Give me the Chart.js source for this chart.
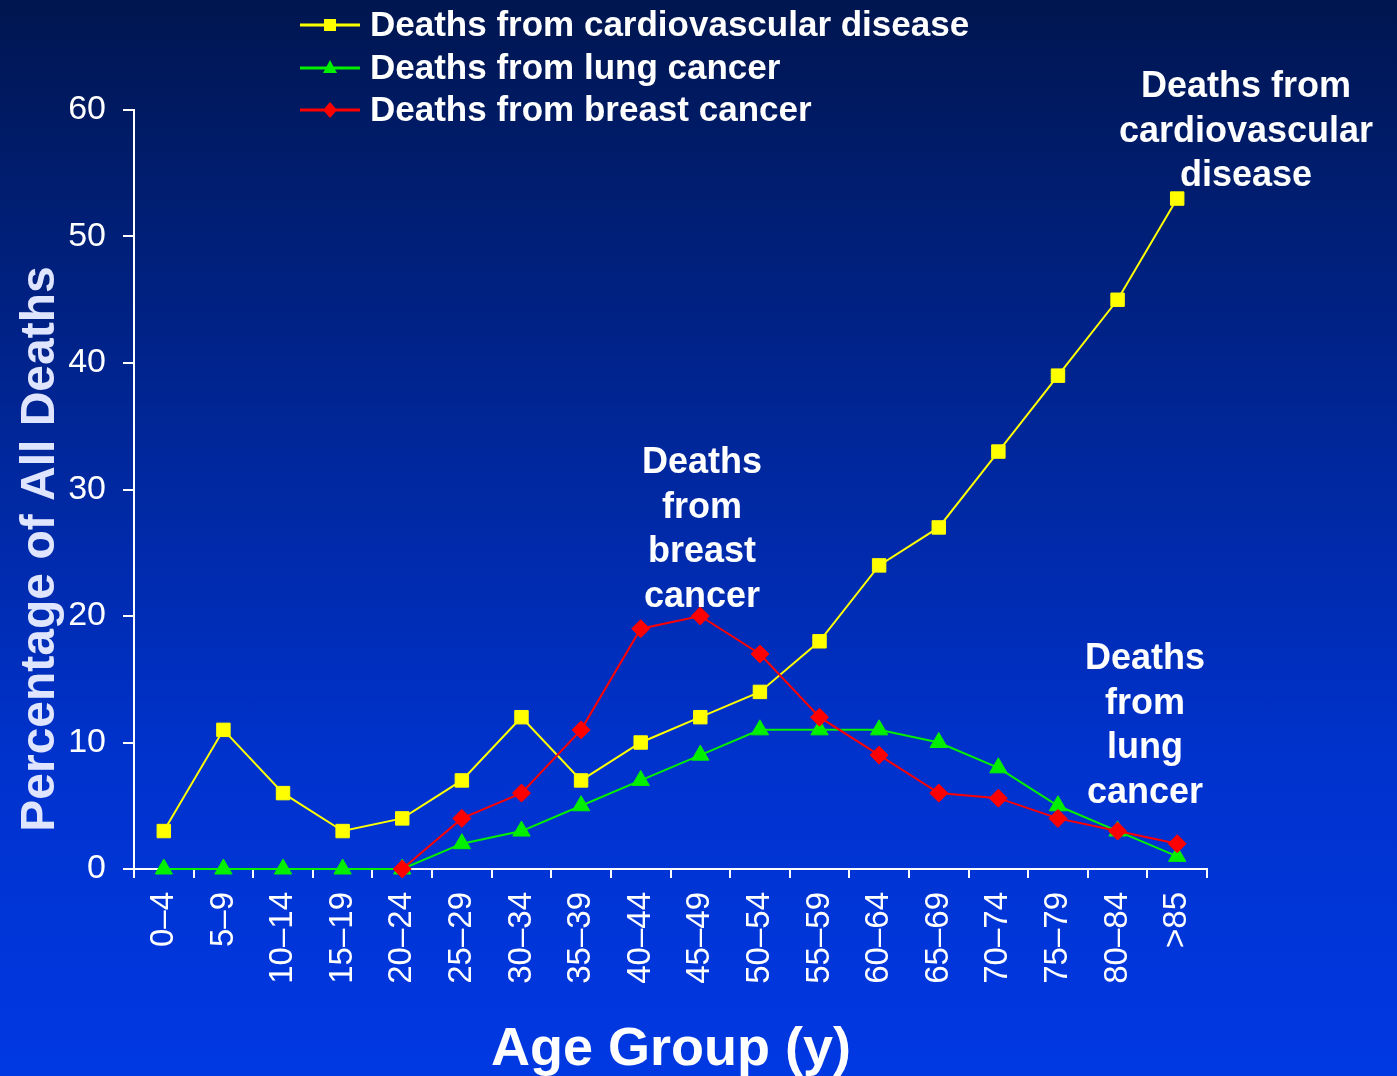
<!DOCTYPE html>
<html>
<head>
<meta charset="utf-8">
<title>Percentage of All Deaths by Age Group</title>
<script src="https://cdn.jsdelivr.net/npm/chart.js@4.4.1/dist/chart.umd.min.js"></script>
<style>
  html, body { margin: 0; padding: 0; }
  body {
    width: 1397px;
    height: 1076px;
    overflow: hidden;
    background: linear-gradient(to bottom, #001650 0%, #00248f 35%, #0032cc 70%, #0038e2 100%);
  }
  canvas { display: block; }
</style>
</head>
<body>
<canvas id="chart" width="1397" height="1076"></canvas>
<script>
const ageGroups = ["0–4", "5–9", "10–14", "15–19", "20–24", "25–29", "30–34", "35–39", "40–44",
  "45–49", "50–54", "55–59", "60–64", "65–69", "70–74", "75–79", "80–84", ">85"];
const cardioDeaths = [3, 11, 6, 3, 4, 7, 12, 7, 10, 12, 14, 18, 24, 27, 33, 39, 45, 53];
const lungDeaths = [0, 0, 0, 0, 0, 2, 3, 5, 7, 9, 11, 11, 11, 10, 8, 5, 3, 1];
const breastDeaths = [null, null, null, null, 0, 4, 6, 11, 19, 20, 17, 12, 9, 6, 5.6, 4, 3, 2];
const yTicks = [0, 10, 20, 30, 40, 50, 60];

const seriesNames = ["Deaths from cardiovascular disease", "Deaths from lung cancer", "Deaths from breast cancer"];
const seriesColors = ["#ffff00", "#00f000", "#ff0000"];
const seriesShapes = ["rect", "triangle", "rectRot"];

// in-chart callouts (text only)
const callouts = [
  { lines: ["Deaths from", "cardiovascular", "disease"], x: 1246, y: 87 },
  { lines: ["Deaths", "from", "breast", "cancer"], x: 702, y: 463 },
  { lines: ["Deaths", "from", "lung", "cancer"], x: 1145, y: 659 },
];

const FONT = "'Liberation Sans', Arial, Helvetica, sans-serif";

function drawMarker(c, shape, x, y, color) {
  c.fillStyle = color;
  c.beginPath();
  if (shape === "rect") {
    c.rect(x - 6, y - 6, 12, 12);
  } else if (shape === "triangle") {
    c.moveTo(x, y - 8);
    c.lineTo(x + 7, y + 5);
    c.lineTo(x - 7, y + 5);
    c.closePath();
  } else {
    c.moveTo(x, y - 8);
    c.lineTo(x + 7, y);
    c.lineTo(x, y + 8);
    c.lineTo(x - 7, y);
    c.closePath();
  }
  c.fill();
}

const textPlugin = {
  id: "slideText",
  afterDraw(chart) {
    const c = chart.ctx;
    c.save();

    // legend
    const rows = [25, 68, 110];
    seriesNames.forEach((name, i) => {
      c.strokeStyle = seriesColors[i];
      c.lineWidth = 3;
      c.beginPath();
      c.moveTo(300, rows[i]);
      c.lineTo(360, rows[i]);
      c.stroke();
      drawMarker(c, seriesShapes[i], 330, rows[i], seriesColors[i]);
      c.fillStyle = "#ffffff";
      c.font = "bold 35px " + FONT;
      c.textAlign = "left";
      c.textBaseline = "middle";
      c.fillText(name, 370, rows[i] + 1);
    });

    // callouts
    c.font = "bold 36px " + FONT;
    c.textAlign = "center";
    c.textBaseline = "middle";
    c.fillStyle = "#ffffff";
    for (const co of callouts) {
      co.lines.forEach((ln, k) => c.fillText(ln, co.x, co.y + k * 44.7));
    }

    // axis titles
    c.font = "bold 54px " + FONT;
    c.textBaseline = "alphabetic";
    c.fillText("Age Group (y)", 671, 1065);

    c.translate(54, 549);
    c.rotate(-Math.PI / 2);
    c.font = "bold 48px " + FONT;
    c.fillStyle = "#dfe5ff";
    c.fillText("Percentage of All Deaths", 0, 0);
    c.restore();
  },
};

const mk = (label, data, color, shape, radius) => ({
  label,
  data,
  borderColor: color,
  backgroundColor: color,
  borderWidth: 2,
  pointStyle: shape,
  pointRadius: radius,
  pointHoverRadius: radius,
  pointBorderWidth: 1,
  pointBorderColor: color,
  pointBackgroundColor: color,
  tension: 0,
  spanGaps: false,
  clip: false,
});

new Chart(document.getElementById("chart"), {
  type: "line",
  data: {
    labels: ageGroups,
    datasets: [
      mk(seriesNames[2], breastDeaths, seriesColors[2], seriesShapes[2], 9),
      mk(seriesNames[1], lungDeaths, seriesColors[1], seriesShapes[1], 10),
      mk(seriesNames[0], cardioDeaths, seriesColors[0], seriesShapes[0], 9.5),
    ],
  },
  options: {
    responsive: false,
    animation: false,
    devicePixelRatio: 1,
    layout: { padding: { left: 0, top: 110, right: 190, bottom: 0 } },
    plugins: { legend: { display: false }, tooltip: { enabled: false } },
    scales: {
      x: {
        offset: true,
        grid: {
          offset: true,
          drawOnChartArea: false,
          drawTicks: true,
          tickLength: 9,
          color: "#ffffff",
          lineWidth: 2,
        },
        border: { color: "#ffffff", width: 2 },
        ticks: {
          color: "#ffffff",
          font: { family: FONT, size: 33 },
          minRotation: 90,
          maxRotation: 90,
          padding: 14,
          autoSkip: false,
        },
        afterFit(scale) {
          scale.height = 1076 - 869;
        },
      },
      y: {
        min: 0,
        max: 60,
        afterBuildTicks(scale) {
          scale.ticks = yTicks.map((v) => ({ value: v }));
        },
        grid: {
          drawOnChartArea: false,
          drawTicks: true,
          tickLength: 11,
          color: "#ffffff",
          lineWidth: 2,
        },
        border: { color: "#ffffff", width: 2 },
        ticks: {
          color: "#ffffff",
          font: { family: FONT, size: 34 },
          padding: 17,
        },
        afterFit(scale) {
          scale.width = 134;
        },
      },
    },
  },
  plugins: [textPlugin],
});
</script>
</body>
</html>
